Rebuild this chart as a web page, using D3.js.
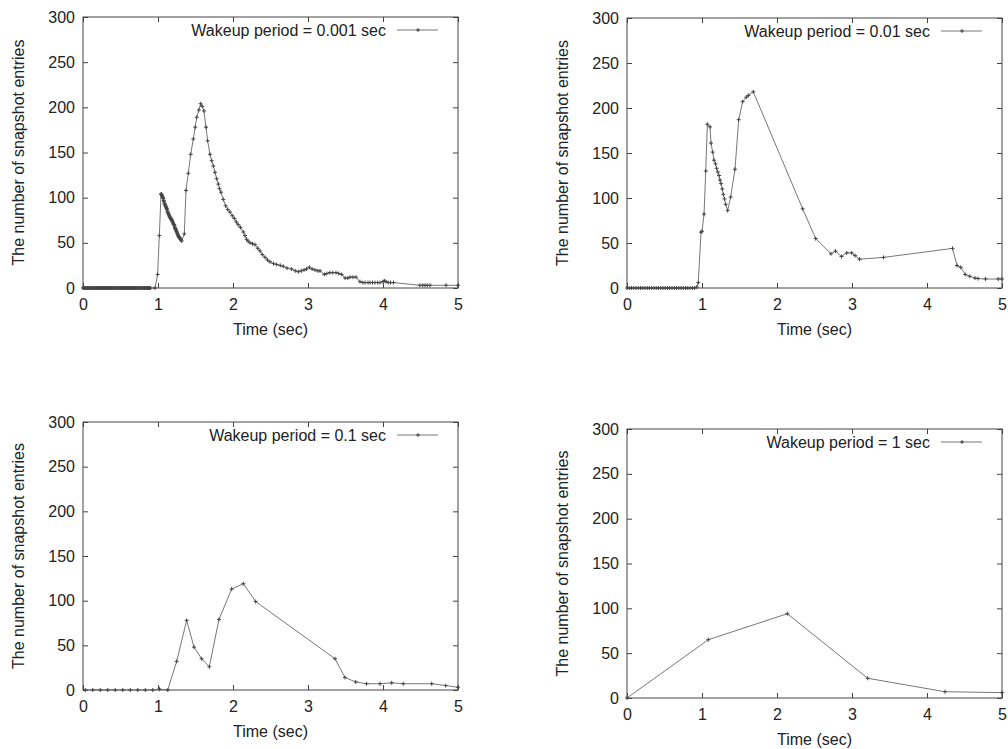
<!DOCTYPE html>
<meta charset="utf-8">
<style>
	body { margin: 0; background: #fff; }
	text { font-family: "Liberation Sans", Arial, Helvetica, sans-serif; font-size: 16px; fill: #222; }
	.frame { fill: none; stroke: #444; stroke-width: 1; }
	.tick line { stroke: #444; }
	.series { fill: none; stroke: #777; stroke-width: 1; }
	.mark { fill: none; stroke: #444; stroke-width: 1; }
</style>
<body>
<script src="https://d3js.org/d3.v7.min.js"></script>
<script>
// values, [time, entries]
var xTicks = [0, 1, 2, 3, 4, 5],
	yTicks = [0, 50, 100, 150, 200, 250, 300];

var titles = ["Wakeup period = 0.001 sec", "Wakeup period = 0.01 sec", "Wakeup period = 0.1 sec", "Wakeup period = 1 sec"];

// 0.001 sec
var p001 = [
	[0, 0], [0.01, 0], [0.02, 0], [0.03, 0], [0.04, 0], [0.05, 0], [0.06, 0], [0.07, 0], [0.08, 0], [0.09, 0],
	[0.1, 0], [0.11, 0], [0.12, 0], [0.13, 0], [0.14, 0], [0.15, 0], [0.16, 0], [0.17, 0], [0.18, 0], [0.19, 0],
	[0.2, 0], [0.21, 0], [0.22, 0], [0.23, 0], [0.24, 0], [0.25, 0], [0.26, 0], [0.27, 0], [0.28, 0], [0.29, 0],
	[0.3, 0], [0.31, 0], [0.32, 0], [0.33, 0], [0.34, 0], [0.35, 0], [0.36, 0], [0.37, 0], [0.38, 0], [0.39, 0],
	[0.4, 0], [0.41, 0], [0.42, 0], [0.43, 0], [0.44, 0], [0.45, 0], [0.46, 0], [0.47, 0], [0.48, 0], [0.49, 0],
	[0.5, 0], [0.51, 0], [0.52, 0], [0.53, 0], [0.54, 0], [0.55, 0], [0.56, 0], [0.57, 0], [0.58, 0], [0.59, 0],
	[0.6, 0], [0.61, 0], [0.62, 0], [0.63, 0], [0.64, 0], [0.65, 0], [0.66, 0], [0.67, 0], [0.68, 0], [0.69, 0],
	[0.7, 0], [0.71, 0], [0.72, 0], [0.73, 0], [0.74, 0], [0.75, 0], [0.76, 0], [0.77, 0], [0.78, 0], [0.79, 0],
	[0.8, 0], [0.81, 0], [0.82, 0], [0.83, 0], [0.84, 0], [0.85, 0], [0.86, 0], [0.87, 0], [0.88, 0], [0.89, 0],
	[0.9, 0], [0.96, 0], [0.995, 15], [1.018, 58], [1.04, 104], [1.045, 104], [1.05, 103], [1.055, 102], [1.06, 101], [1.065, 100],
	[1.07, 99], [1.075, 97], [1.08, 96], [1.085, 94], [1.09, 93], [1.095, 92], [1.1, 91], [1.105, 90], [1.11, 89], [1.115, 88],
	[1.12, 87], [1.125, 85], [1.13, 84], [1.135, 83], [1.14, 82], [1.145, 81], [1.15, 80], [1.155, 79], [1.16, 78], [1.165, 78],
	[1.17, 77], [1.175, 76], [1.18, 76], [1.185, 75], [1.19, 74], [1.195, 73], [1.2, 72], [1.205, 71], [1.21, 70], [1.215, 70],
	[1.22, 69], [1.225, 67], [1.23, 66], [1.235, 65], [1.24, 64], [1.245, 63], [1.25, 62], [1.255, 61], [1.26, 60], [1.265, 59],
	[1.27, 58], [1.275, 57], [1.28, 56], [1.285, 56], [1.29, 55], [1.295, 55], [1.3, 54], [1.308, 53], [1.316, 52], [1.351, 60],
	[1.373, 108], [1.404, 127], [1.436, 148], [1.471, 165], [1.496, 178], [1.516, 189], [1.545, 197], [1.569, 204], [1.59, 201], [1.613, 196],
	[1.64, 178], [1.662, 163], [1.693, 148], [1.715, 141], [1.738, 135], [1.76, 128], [1.782, 121], [1.804, 115], [1.82, 110], [1.84, 106],
	[1.871, 98], [1.902, 91], [1.93, 87], [1.96, 84], [1.99, 80], [2.018, 77], [2.045, 73], [2.07, 70], [2.1, 67], [2.138, 62],
	[2.16, 58], [2.18, 54], [2.2, 52], [2.227, 50], [2.26, 49], [2.293, 48], [2.33, 44], [2.36, 41], [2.39, 37], [2.427, 34],
	[2.46, 31], [2.493, 29], [2.54, 27], [2.582, 26], [2.63, 25], [2.67, 24], [2.72, 22], [2.782, 21], [2.83, 19], [2.871, 18],
	[2.91, 19], [2.947, 20], [2.98, 21], [3.018, 23], [3.055, 21], [3.093, 20], [3.13, 19], [3.16, 19], [3.218, 15], [3.25, 16],
	[3.293, 17], [3.33, 17], [3.373, 17], [3.41, 16], [3.449, 15], [3.493, 11], [3.53, 11], [3.56, 12], [3.6, 12], [3.64, 12],
	[3.693, 7], [3.73, 6], [3.76, 6], [3.8, 6], [3.827, 6], [3.86, 6], [3.893, 6], [3.93, 6], [3.96, 6], [4.0, 7],
	[4.018, 8], [4.04, 7], [4.07, 6], [4.1, 6], [4.14, 6], [4.493, 3], [4.53, 3], [4.56, 3], [4.59, 3], [4.627, 3],
	[4.84, 3], [5.0, 3]
];

// 0.01 sec
var p01 = [
	[0, 0], [0.03, 0], [0.06, 0], [0.09, 0], [0.12, 0], [0.15, 0], [0.18, 0], [0.21, 0], [0.24, 0], [0.27, 0],
	[0.3, 0], [0.33, 0], [0.36, 0], [0.39, 0], [0.42, 0], [0.45, 0], [0.48, 0], [0.51, 0], [0.54, 0], [0.57, 0],
	[0.6, 0], [0.63, 0], [0.66, 0], [0.69, 0], [0.72, 0], [0.75, 0], [0.78, 0], [0.81, 0], [0.84, 0], [0.87, 0],
	[0.9, 0], [0.93, 1], [0.95, 6], [0.987, 62], [1.0, 63], [1.027, 82], [1.05, 130], [1.071, 182], [1.107, 179], [1.12, 161],
	[1.142, 151], [1.16, 142], [1.18, 138], [1.195, 133], [1.21, 129], [1.227, 125], [1.24, 120], [1.253, 116], [1.27, 110], [1.284, 104],
	[1.3, 99], [1.316, 93], [1.342, 86], [1.382, 101], [1.44, 132], [1.489, 187], [1.542, 207], [1.59, 212], [1.618, 214], [1.684, 218],
	[2.342, 88], [2.515, 55], [2.72, 38], [2.78, 41], [2.86, 35], [2.93, 39], [2.996, 39], [3.04, 36], [3.1, 32], [3.42, 34],
	[4.34, 44], [4.4, 25], [4.45, 23], [4.51, 15], [4.57, 13], [4.64, 11], [4.68, 10.5], [4.78, 10], [4.95, 10], [5.0, 10]
];

// 0.1 sec
var p1 = [
	[0.03, 0], [0.13, 0], [0.23, 0], [0.33, 0], [0.43, 0], [0.53, 0], [0.63, 0], [0.73, 0], [0.83, 0], [0.93, 0],
	[1.02, 1], [1.13, 0], [1.249, 32], [1.382, 78], [1.48, 48], [1.582, 35], [1.684, 26], [1.813, 79], [1.982, 113], [2.138, 119],
	[2.302, 99], [3.36, 35], [3.493, 14], [3.636, 9], [3.78, 7], [3.96, 7], [4.116, 8], [4.27, 7], [4.649, 7], [4.836, 5],
	[5.0, 3]
];

// 1 sec
var p1s = [[0, 0], [1.084, 65], [2.138, 94], [3.209, 22], [4.24, 7], [5.0, 6]];

var series = [p001, p01, p1, p1s];
var boxes = [
	{l: 83, t: 17, r: 458, b: 288},
	{l: 627, t: 18, r: 1002, b: 288},
	{l: 83, t: 422, r: 458, b: 690},
	{l: 627, t: 429, r: 1002, b: 698}
];

var svg = d3.select("body").append("svg").attr("width", 1008).attr("height", 749);
var cross = "M-2,0H2M0,-2V2";

boxes.forEach(function(bx, i) {
	var x = d3.scaleLinear().domain([0, 5]).range([bx.l, bx.r]),
		y = d3.scaleLinear().domain([0, 300]).range([bx.b, bx.t]);
	var g = svg.append("g");

	// ticks on all four sides, pointing in (gnuplot mirror)
	g.append("g").attr("transform", "translate(0," + bx.b + ")")
	 .call(d3.axisBottom(x).tickValues(xTicks).tickFormat(d3.format("d")).tickSizeInner(-5).tickSizeOuter(0).tickPadding(11));
	g.append("g").attr("transform", "translate(0," + bx.t + ")")
	 .call(d3.axisTop(x).tickValues(xTicks).tickFormat("").tickSizeInner(-5).tickSizeOuter(0));
	g.append("g").attr("transform", "translate(" + bx.l + ",0)")
	 .call(d3.axisLeft(y).tickValues(yTicks).tickSizeInner(-5).tickSizeOuter(0).tickPadding(8));
	g.append("g").attr("transform", "translate(" + bx.r + ",0)")
	 .call(d3.axisRight(y).tickValues(yTicks).tickFormat("").tickSizeInner(-5).tickSizeOuter(0));
	g.selectAll(".domain").remove();
	g.selectAll(".tick text").attr("fill", "#222").style("font-size", "16px");

	g.append("rect").attr("class", "frame")
	 .attr("x", bx.l).attr("y", bx.t).attr("width", bx.r - bx.l).attr("height", bx.b - bx.t);

	var pts = series[i];
	var line = d3.line().x(function(d) { return x(d[0]); }).y(function(d) { return y(d[1]); });
	g.append("path").datum(pts).attr("class", "series").attr("d", line);
	g.selectAll(".mark").data(pts).enter().append("path")
	 .attr("class", "mark")
	 .attr("transform", function(d) { return "translate(" + x(d[0]) + "," + y(d[1]) + ")"; })
	 .attr("d", cross);

	// legend
	var ly = bx.t + 13;
	g.append("text").attr("x", bx.r - 72).attr("y", ly).attr("dy", "0.35em")
	 .attr("text-anchor", "end").text(titles[i]);
	g.append("line").attr("class", "series")
	 .attr("x1", bx.r - 61).attr("x2", bx.r - 20).attr("y1", ly).attr("y2", ly);
	g.append("path").attr("class", "mark")
	 .attr("transform", "translate(" + (bx.r - 40) + "," + ly + ")").attr("d", cross);

	// axis titles
	g.append("text").attr("transform", "translate(" + (bx.l - 65) + "," + ((bx.t + bx.b) / 2) + ") rotate(-90)")
	 .attr("text-anchor", "middle").attr("dy", "0.35em").text("The number of snapshot entries");
	g.append("text").attr("x", (bx.l + bx.r) / 2).attr("y", bx.b + 41).attr("dy", "0.35em")
	 .attr("text-anchor", "middle").text("Time (sec)");
});
</script>
</body>
